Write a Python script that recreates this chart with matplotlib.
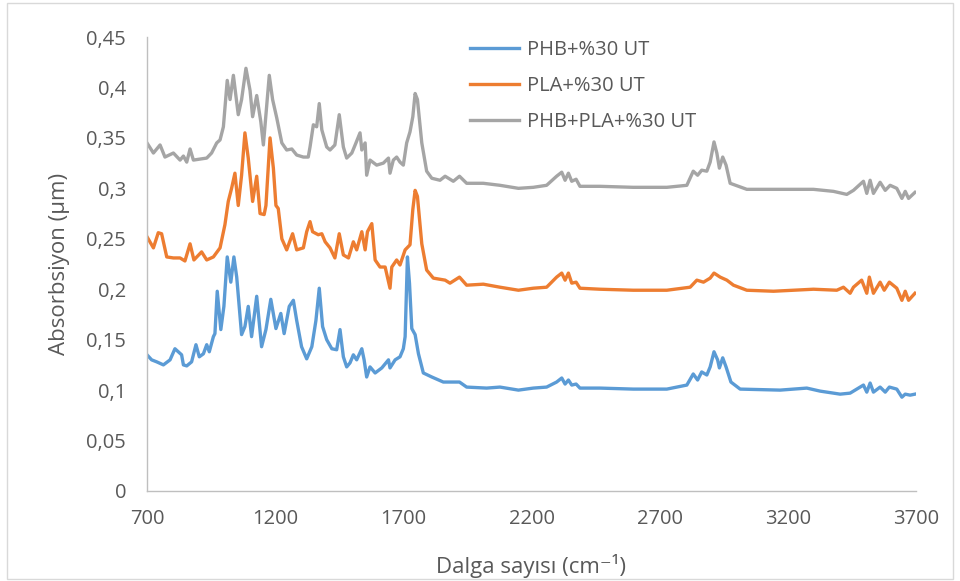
import matplotlib
matplotlib.use("Agg")
from matplotlib import pyplot as plt
from matplotlib.patches import Rectangle
from matplotlib.ticker import FuncFormatter

# PHB+%30 UT (mavi)
phb_x = [700, 718, 738, 764, 790, 809, 822, 835, 842, 855, 874, 891, 904, 920, 933, 943,
         959, 965, 974, 988, 1000, 1013, 1027, 1039, 1050, 1069, 1082, 1095, 1108, 1128,
         1147, 1164, 1183, 1203, 1222, 1235, 1255, 1271, 1284, 1303, 1323, 1343, 1359,
         1372, 1385, 1401, 1421, 1440, 1453, 1466, 1479, 1492, 1505, 1518, 1538, 1547,
         1557, 1570, 1590, 1616, 1642, 1648, 1668, 1687, 1700, 1707, 1716, 1724, 1733,
         1746, 1759, 1778, 1811, 1856, 1919, 1947, 2025, 2077, 2149, 2207, 2259, 2298,
         2318, 2331, 2344, 2357, 2374, 2389, 2467, 2597, 2728, 2806, 2831, 2848, 2864,
         2884, 2897, 2912, 2926, 2933, 2946, 2959, 2978, 3014, 3170, 3274, 3326, 3404,
         3443, 3495, 3508, 3521, 3534, 3560, 3580, 3596, 3625, 3645, 3658, 3677, 3696]
phb_y = [0.135, 0.130, 0.128, 0.125, 0.130, 0.141, 0.138, 0.135, 0.125, 0.124, 0.128, 0.145,
         0.133, 0.136, 0.145, 0.138, 0.153, 0.156, 0.198, 0.160, 0.183, 0.232, 0.207, 0.232,
         0.212, 0.155, 0.163, 0.183, 0.153, 0.193, 0.143, 0.160, 0.190, 0.161, 0.176, 0.156,
         0.183, 0.189, 0.169, 0.143, 0.131, 0.143, 0.169, 0.201, 0.163, 0.150, 0.141, 0.140,
         0.160, 0.133, 0.123, 0.127, 0.135, 0.130, 0.141, 0.130, 0.113, 0.123, 0.117, 0.122,
         0.130, 0.122, 0.130, 0.133, 0.141, 0.153, 0.232, 0.206, 0.161, 0.155, 0.136, 0.117,
         0.113, 0.108, 0.108, 0.103, 0.102, 0.103, 0.100, 0.102, 0.103, 0.108, 0.112, 0.106,
         0.110, 0.105, 0.106, 0.102, 0.102, 0.101, 0.101, 0.105, 0.116, 0.110, 0.118, 0.115,
         0.123, 0.138, 0.130, 0.122, 0.132, 0.123, 0.108, 0.101, 0.100, 0.102, 0.099, 0.096,
         0.097, 0.105, 0.098, 0.107, 0.098, 0.103, 0.098, 0.103, 0.101, 0.093, 0.096, 0.095,
         0.096]

# PLA+%30 UT (turuncu)
pla_x = [700, 725, 744, 757, 777, 803, 829, 848, 868, 883, 913, 933, 959, 985, 1004, 1017,
         1030, 1043, 1056, 1069, 1082, 1095, 1112, 1128, 1141, 1157, 1164, 1180, 1193, 1203,
         1212, 1226, 1245, 1268, 1284, 1310, 1323, 1336, 1346, 1368, 1382, 1395, 1414, 1433,
         1450, 1466, 1486, 1505, 1518, 1538, 1551, 1560, 1577, 1590, 1609, 1629, 1648, 1655,
         1674, 1687, 1707, 1726, 1737, 1746, 1755, 1772, 1791, 1817, 1863, 1882, 1919, 1947,
         2012, 2077, 2149, 2207, 2259, 2298, 2318, 2331, 2344, 2357, 2374, 2389, 2467, 2597,
         2728, 2819, 2845, 2871, 2897, 2912, 2936, 2962, 2988, 3040, 3144, 3300, 3391, 3417,
         3443, 3456, 3488, 3508, 3518, 3534, 3560, 3576, 3596, 3625, 3645, 3658, 3671, 3696]
pla_y = [0.252, 0.241, 0.256, 0.255, 0.232, 0.231, 0.231, 0.228, 0.245, 0.229, 0.237, 0.229,
         0.232, 0.241, 0.264, 0.287, 0.300, 0.315, 0.283, 0.313, 0.355, 0.330, 0.287, 0.312,
         0.275, 0.274, 0.283, 0.350, 0.320, 0.283, 0.280, 0.250, 0.239, 0.255, 0.239, 0.241,
         0.257, 0.267, 0.257, 0.254, 0.255, 0.247, 0.241, 0.231, 0.255, 0.234, 0.231, 0.247,
         0.239, 0.257, 0.239, 0.257, 0.265, 0.229, 0.222, 0.222, 0.201, 0.222, 0.229, 0.224,
         0.239, 0.244, 0.279, 0.298, 0.292, 0.245, 0.219, 0.211, 0.209, 0.206, 0.212, 0.204,
         0.205, 0.202, 0.199, 0.201, 0.202, 0.212, 0.216, 0.209, 0.216, 0.206, 0.207, 0.201,
         0.200, 0.199, 0.199, 0.202, 0.209, 0.207, 0.211, 0.216, 0.212, 0.209, 0.204, 0.199,
         0.198, 0.200, 0.199, 0.202, 0.196, 0.202, 0.209, 0.196, 0.212, 0.196, 0.207, 0.199,
         0.207, 0.201, 0.189, 0.198, 0.189, 0.196]

# PHB+PLA+%30 UT (gri)
mix_x = [700, 725, 751, 770, 803, 829, 842, 855, 868, 881, 933, 952, 972, 985, 998, 1013,
         1024, 1037, 1056, 1069, 1086, 1102, 1112, 1128, 1144, 1154, 1177, 1190, 1206, 1226,
         1245, 1265, 1284, 1310, 1329, 1336, 1349, 1362, 1372, 1382, 1401, 1414, 1433, 1450,
         1466, 1479, 1499, 1512, 1531, 1538, 1551, 1557, 1570, 1596, 1622, 1642, 1648, 1661,
         1674, 1687, 1700, 1713, 1726, 1737, 1746, 1755, 1772, 1791, 1811, 1843, 1863, 1895,
         1919, 1947, 2012, 2077, 2149, 2207, 2259, 2298, 2318, 2331, 2344, 2357, 2374, 2389,
         2467, 2597, 2728, 2806, 2831, 2848, 2864, 2884, 2897, 2912, 2923, 2933, 2946, 2959,
         2975, 3040, 3170, 3300, 3378, 3430, 3456, 3495, 3508, 3521, 3534, 3560, 3580, 3599,
         3625, 3645, 3658, 3671, 3696]
mix_y = [0.345, 0.335, 0.343, 0.331, 0.335, 0.328, 0.332, 0.326, 0.339, 0.328, 0.330, 0.335,
         0.345, 0.348, 0.361, 0.407, 0.388, 0.412, 0.373, 0.388, 0.419, 0.397, 0.371, 0.392,
         0.366, 0.343, 0.412, 0.388, 0.370, 0.345, 0.338, 0.339, 0.333, 0.331, 0.331, 0.341,
         0.363, 0.361, 0.384, 0.358, 0.341, 0.338, 0.343, 0.373, 0.341, 0.330, 0.335, 0.343,
         0.355, 0.338, 0.345, 0.313, 0.328, 0.323, 0.325, 0.330, 0.315, 0.328, 0.331, 0.326,
         0.323, 0.345, 0.356, 0.371, 0.394, 0.388, 0.345, 0.317, 0.310, 0.308, 0.312, 0.307,
         0.312, 0.305, 0.305, 0.303, 0.300, 0.301, 0.303, 0.312, 0.316, 0.308, 0.315, 0.307,
         0.309, 0.302, 0.302, 0.301, 0.301, 0.303, 0.317, 0.313, 0.318, 0.317, 0.326, 0.346,
         0.335, 0.320, 0.331, 0.323, 0.305, 0.299, 0.299, 0.299, 0.297, 0.294, 0.298, 0.307,
         0.295, 0.308, 0.295, 0.306, 0.298, 0.303, 0.300, 0.290, 0.297, 0.290, 0.296]

x_ticks = [700, 1200, 1700, 2200, 2700, 3200, 3700]
y_ticks = [0, 0.05, 0.1, 0.15, 0.2, 0.25, 0.3, 0.35, 0.4, 0.45]

plt.rcParams['font.family'] = ['Open Sans', 'DejaVu Sans']
text_color = "#595959"

fig = plt.figure(figsize=(9.6, 5.81), dpi=100)
ax = fig.add_axes([147 / 960, 90 / 581, 769 / 960, 454 / 581])

ax.plot(phb_x, phb_y, color="#5b9bd5", lw=2.4, label="PHB+%30 UT")
ax.plot(pla_x, pla_y, color="#ed7d31", lw=2.4, label="PLA+%30 UT")
ax.plot(mix_x, mix_y, color="#a5a5a5", lw=2.4, label="PHB+PLA+%30 UT")

ax.set_xlim(700, 3700)
ax.set_ylim(0, 0.45)
ax.set_xticks(x_ticks)
ax.set_yticks(y_ticks)
ax.yaxis.set_major_formatter(FuncFormatter(lambda v, p: ("%g" % v).replace(".", ",")))
ax.tick_params(length=0, labelsize=14.5, colors=text_color)
ax.tick_params(axis="y", pad=15)
ax.tick_params(axis="x", pad=13)

for s in ["top", "right"]:
    ax.spines[s].set_visible(False)
for s in ["left", "bottom"]:
    ax.spines[s].set_color("#bfbfbf")
    ax.spines[s].set_linewidth(1)

ax.set_xlabel("Dalga sayısı (cm⁻¹)", fontsize=16, color=text_color, labelpad=18)
ax.set_ylabel("Absorbsiyon (µm)", fontsize=16, color=text_color, labelpad=12)

leg = ax.legend(loc="upper left", bbox_to_anchor=(0.397, 1.033), frameon=False,
                fontsize=14.5, handlelength=2.4, labelspacing=0.8, handletextpad=0.4)
for t in leg.get_texts():
    t.set_color(text_color)

# Excel grafik çerçevesi
fig.patches.append(Rectangle((7 / 960, 2 / 581), 946 / 960, 576 / 581,
                             transform=fig.transFigure, fill=False,
                             edgecolor="#d9d9d9", lw=1))

plt.savefig("out.png", dpi=100)
